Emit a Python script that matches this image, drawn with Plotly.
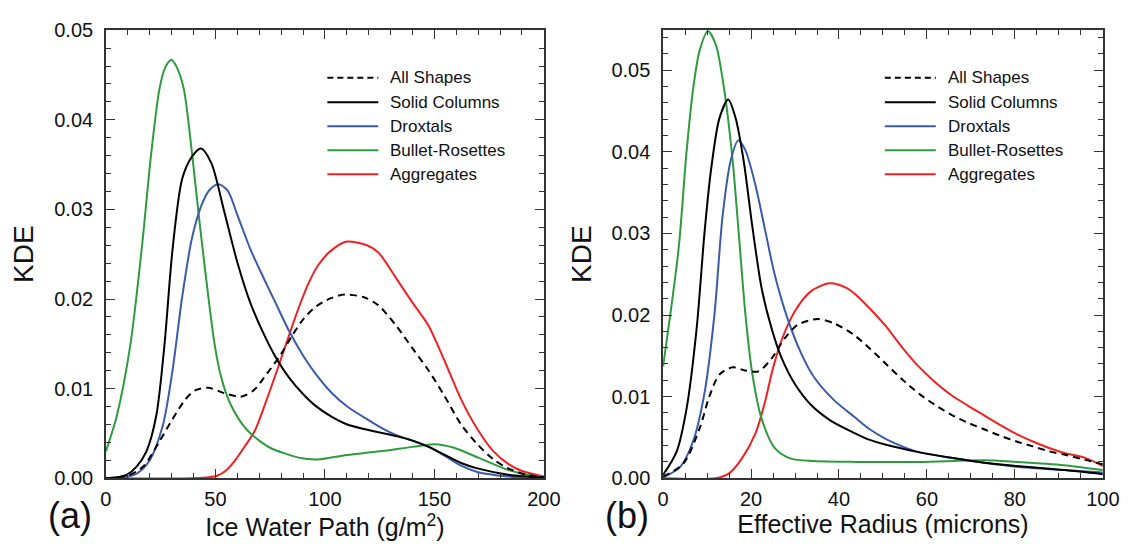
import plotly.graph_objects as go

# ---------------- Panel (a): Ice Water Path ----------------
iwp_all_x = [0, 10, 17, 24.4, 30.4, 36.3, 40.7, 46.7, 54, 61.5, 67.4, 73.3, 79.3, 85, 90, 95.6, 102.8, 108.9, 117.8, 124.4, 132.6, 140, 147.4, 154.8, 162.2, 169.6, 177, 183.7, 192, 200]
iwp_all_y = [0, 0.0003, 0.0013, 0.0041, 0.0066, 0.0088, 0.0098, 0.0101, 0.0095, 0.0091, 0.0098, 0.0116, 0.0136, 0.0159, 0.0177, 0.0191, 0.0201, 0.0205, 0.0202, 0.0193, 0.0170, 0.0145, 0.0120, 0.0091, 0.0060, 0.0038, 0.0021, 0.0011, 0.0004, 0.0001]

iwp_col_x = [0, 5, 9.6, 14, 18.5, 23, 26.7, 30.4, 34.8, 39.3, 43.4, 48.1, 54, 60, 65.9, 71.9, 77.8, 83.7, 90, 95.6, 102.8, 110.2, 117.8, 125, 132.6, 140, 147.4, 154.8, 162.2, 169.6, 183.7, 192, 200]
iwp_col_y = [0, 0.0001, 0.0004, 0.0013, 0.0030, 0.0070, 0.0148, 0.0255, 0.0334, 0.0359, 0.0368, 0.0352, 0.0298, 0.0241, 0.0196, 0.0162, 0.0134, 0.0112, 0.0094, 0.0081, 0.0069, 0.0060, 0.0055, 0.0051, 0.0047, 0.0042, 0.0035, 0.0026, 0.0017, 0.0011, 0.0004, 0.0002, 0.0001]

iwp_drox_x = [0, 8, 14, 20, 26, 30.4, 34.8, 39.3, 43.7, 47.4, 51.5, 55.6, 60, 65.9, 71.9, 77.8, 83.7, 90, 95.6, 102.8, 110.2, 117.8, 125.2, 132.6, 140, 147.4, 154.8, 162.2, 169.6, 183.7, 200]
iwp_drox_y = [0, 0.0001, 0.0005, 0.0020, 0.0059, 0.0120, 0.0202, 0.0268, 0.0305, 0.0322, 0.0328, 0.0321, 0.0294, 0.0256, 0.0224, 0.0194, 0.0164, 0.0137, 0.0117, 0.0096, 0.0080, 0.0068, 0.0057, 0.0048, 0.0042, 0.0035, 0.0025, 0.0014, 0.0007, 0.0002, 0.0]

iwp_bull_x = [0, 5, 11.1, 16.3, 20.7, 24.4, 27, 29.9, 32.5, 35.6, 39.3, 42.5, 45.9, 49.6, 52.6, 57, 64, 70, 75, 88, 97, 110, 125, 140, 150, 159, 170, 184, 192, 200]
iwp_bull_y = [0.0030, 0.0070, 0.0148, 0.0255, 0.0363, 0.0434, 0.0458, 0.0467, 0.0458, 0.0434, 0.0363, 0.0291, 0.0220, 0.0150, 0.0113, 0.0082, 0.0055, 0.0042, 0.0034, 0.0023, 0.0021, 0.0026, 0.0030, 0.0035, 0.0038, 0.0034, 0.0023, 0.0009, 0.0004, 0.0001]

iwp_agg_x = [0, 40, 47, 51, 55, 59, 63, 68, 73, 77.8, 83.7, 88, 92.6, 97, 102.8, 109.6, 119.2, 124.4, 132.6, 140, 147.4, 154.8, 162.2, 169.6, 177, 183.7, 190, 200]
iwp_agg_y = [0, 0, 0.0001, 0.0003, 0.0009, 0.0020, 0.0034, 0.0053, 0.0085, 0.0118, 0.0160, 0.0190, 0.0218, 0.0238, 0.0254, 0.0264, 0.0260, 0.0252, 0.0223, 0.0196, 0.0170, 0.0130, 0.0088, 0.0055, 0.0030, 0.0016, 0.0008, 0.0002]

# ---------------- Panel (b): Effective Radius ----------------
re_all_x = [0, 4.6, 8.3, 10.5, 12.8, 15.8, 18.7, 21.7, 24.7, 27.6, 30.6, 35.1, 38.8, 43.3, 47, 50.7, 54.4, 58.1, 61.8, 65.5, 69.3, 73, 76.7, 80.4, 84.1, 87.8, 91.2, 95, 100]
re_all_y = [0.0002, 0.0018, 0.0061, 0.0100, 0.0127, 0.0136, 0.0132, 0.0131, 0.0147, 0.0171, 0.0188, 0.0195, 0.0190, 0.0176, 0.0159, 0.0140, 0.0121, 0.0104, 0.0090, 0.0078, 0.0068, 0.0060, 0.0052, 0.0045, 0.0039, 0.0033, 0.0029, 0.0024, 0.0017]

re_col_x = [0, 3.1, 5.3, 7.6, 9.4, 10.9, 12.8, 14.8, 16.5, 18.4, 20.2, 22.4, 24.7, 26.9, 29.9, 33.6, 38, 43.3, 47, 50.7, 58.1, 65.5, 73, 80.4, 91.2, 100]
re_col_y = [0.0004, 0.0033, 0.0084, 0.0182, 0.0300, 0.0378, 0.0441, 0.0464, 0.0441, 0.0386, 0.0312, 0.0233, 0.0183, 0.0148, 0.0116, 0.0090, 0.0071, 0.0056, 0.0047, 0.0041, 0.0032, 0.0025, 0.0019, 0.0015, 0.0010, 0.0005]

re_drox_x = [0, 3.9, 6.8, 9.4, 11.7, 13.5, 15.4, 17.1, 18.7, 21, 23.2, 25.4, 28.4, 31.4, 34.3, 38.8, 43.3, 47, 50.7, 54.4, 58.1, 65.5, 73, 80.4, 91.2, 100]
re_drox_y = [0.0001, 0.0014, 0.0045, 0.0104, 0.0202, 0.0320, 0.0390, 0.0414, 0.0402, 0.0359, 0.0304, 0.0249, 0.0194, 0.0153, 0.0124, 0.0096, 0.0076, 0.0060, 0.0048, 0.0039, 0.0032, 0.0025, 0.0019, 0.0014, 0.0010, 0.0007]

re_bull_x = [0, 3.5, 5.3, 6.8, 8.3, 10.2, 12, 13.9, 15.8, 17.2, 18.7, 20.2, 22.4, 25.4, 29.1, 34.3, 44, 58.1, 73, 80.4, 91.2, 100]
re_bull_y = [0.0137, 0.0280, 0.0398, 0.0476, 0.0524, 0.0548, 0.0531, 0.0476, 0.0390, 0.0300, 0.0202, 0.0131, 0.0073, 0.0037, 0.0024, 0.0021, 0.0020, 0.0020, 0.0022, 0.0020, 0.0016, 0.0010]

re_agg_x = [0, 12, 15, 18, 21, 23, 25, 27, 30, 33.6, 37.9, 41.8, 44, 47, 50.7, 54.4, 58.1, 61.8, 65.5, 69.3, 73, 76.7, 80.4, 84.1, 87.8, 91.2, 96, 100]
re_agg_y = [0, 0, 0.0006, 0.0025, 0.0055, 0.0090, 0.0135, 0.0170, 0.0205, 0.0229, 0.0239, 0.0233, 0.0224, 0.0208, 0.0186, 0.0160, 0.0137, 0.0118, 0.0102, 0.0089, 0.0077, 0.0065, 0.0054, 0.0045, 0.0037, 0.0031, 0.0025, 0.0015]

series_names = ["All Shapes", "Solid Columns", "Droxtals", "Bullet-Rosettes", "Aggregates"]
series_colors = ["#000000", "#000000", "#3A5BAA", "#2E9B3E", "#EE2222"]
series_dash = ["7px,5px", "solid", "solid", "solid", "solid"]

left_data = [(iwp_all_x, iwp_all_y), (iwp_col_x, iwp_col_y), (iwp_drox_x, iwp_drox_y),
             (iwp_bull_x, iwp_bull_y), (iwp_agg_x, iwp_agg_y)]
right_data = [(re_all_x, re_all_y), (re_col_x, re_col_y), (re_drox_x, re_drox_y),
              (re_bull_x, re_bull_y), (re_agg_x, re_agg_y)]

W, H = 1135, 550
FONT = "Liberation Sans, Arial, sans-serif"

# plot area in pixels
L_X0, L_X1 = 102, 549
R_X0, R_X1 = 670.7, 1119.5
Y_TOP, Y_BOT = 20, 486.7

def px(v):
    return v / W

def py(v):
    return 1 - v / H

fig = go.Figure()

order = [4, 3, 2, 1, 0]
for i in order:
    x, y = left_data[i]
    fig.add_trace(go.Scatter(x=x, y=y, mode="lines", name=series_names[i], showlegend=False,
                             line=dict(color=series_colors[i], width=2, dash=series_dash[i], shape="spline", smoothing=0.8),
                             xaxis="x", yaxis="y"))
for i in order:
    x, y = right_data[i]
    fig.add_trace(go.Scatter(x=x, y=y, mode="lines", name=series_names[i], showlegend=False,
                             line=dict(color=series_colors[i], width=2, dash=series_dash[i], shape="spline", smoothing=0.8),
                             xaxis="x2", yaxis="y2"))

axis_common = dict(
    showline=True, linecolor="#333333", linewidth=1.5, mirror="ticks",
    ticks="inside", ticklen=9, tickwidth=1.3, tickcolor="#333333",
    showgrid=False, zeroline=False,
    tickfont=dict(family=FONT, size=20, color="#111111"),
)
minor_common = dict(ticks="inside", ticklen=5, tickcolor="#333333", tickwidth=1.1)
xtitle_font = dict(family=FONT, size=25, color="#111111")
ytitle_font = dict(family=FONT, size=28, color="#111111")

fig.update_layout(
    width=W, height=H,
    margin=dict(l=0, r=0, t=0, b=0),
    paper_bgcolor="white", plot_bgcolor="white",
    xaxis=dict(domain=[px(L_X0), px(L_X1)], range=[0, 200], tick0=0, dtick=50, anchor="y",
               minor=dict(dtick=10, **minor_common), ticklabelstandoff=2,
               title=dict(text="Ice Water Path (g/m<sup>2</sup>)", font=xtitle_font, standoff=6),
               **axis_common),
    yaxis=dict(domain=[py(Y_BOT), py(Y_TOP)], range=[0, 0.05], tick0=0, dtick=0.01, tickformat=".2f", anchor="x",
               minor=dict(dtick=0.002, **minor_common), ticklabelstandoff=7,
               title=dict(text="KDE", font=ytitle_font, standoff=12),
               **axis_common),
    xaxis2=dict(domain=[px(R_X0), px(R_X1)], range=[0, 100], tick0=0, dtick=20, anchor="y2",
                minor=dict(dtick=5, **minor_common), ticklabelstandoff=2,
                title=dict(text="Effective Radius (microns)", font=xtitle_font, standoff=6),
                **axis_common),
    yaxis2=dict(domain=[py(Y_BOT), py(Y_TOP)], range=[0, 0.0549], tick0=0, dtick=0.01, tickformat=".2f", anchor="x2",
                minor=dict(dtick=0.002, **minor_common), ticklabelstandoff=7,
                title=dict(text="KDE", font=ytitle_font, standoff=12),
                **axis_common),
)

# manual legends (long line samples like the original)
legend_rows = [69.5, 95, 120, 145, 170]
shapes = []
annotations = []
for (lx0, lx1, tx) in [(328, 380, 390), (897, 949, 959)]:
    for i, ry in enumerate(legend_rows):
        shapes.append(dict(type="line", xref="paper", yref="paper",
                           x0=px(lx0), x1=px(lx1), y0=py(ry), y1=py(ry),
                           line=dict(color=series_colors[i], width=2,
                                     dash="6px,4px" if i == 0 else "solid")))
        annotations.append(dict(xref="paper", yref="paper", x=px(tx), y=py(ry),
                                xanchor="left", yanchor="middle", showarrow=False,
                                text=series_names[i],
                                font=dict(family=FONT, size=17, color="#111111")))

annotations += [
    dict(xref="paper", yref="paper", x=px(65), y=py(526), text="(a)",
         showarrow=False, xanchor="center", yanchor="middle", font=dict(family=FONT, size=36, color="#111111")),
    dict(xref="paper", yref="paper", x=px(R_X0 - 37), y=py(526), text="(b)",
         showarrow=False, xanchor="center", yanchor="middle", font=dict(family=FONT, size=36, color="#111111")),
]

fig.update_layout(shapes=shapes, annotations=annotations)

fig.write_html("out.html")
